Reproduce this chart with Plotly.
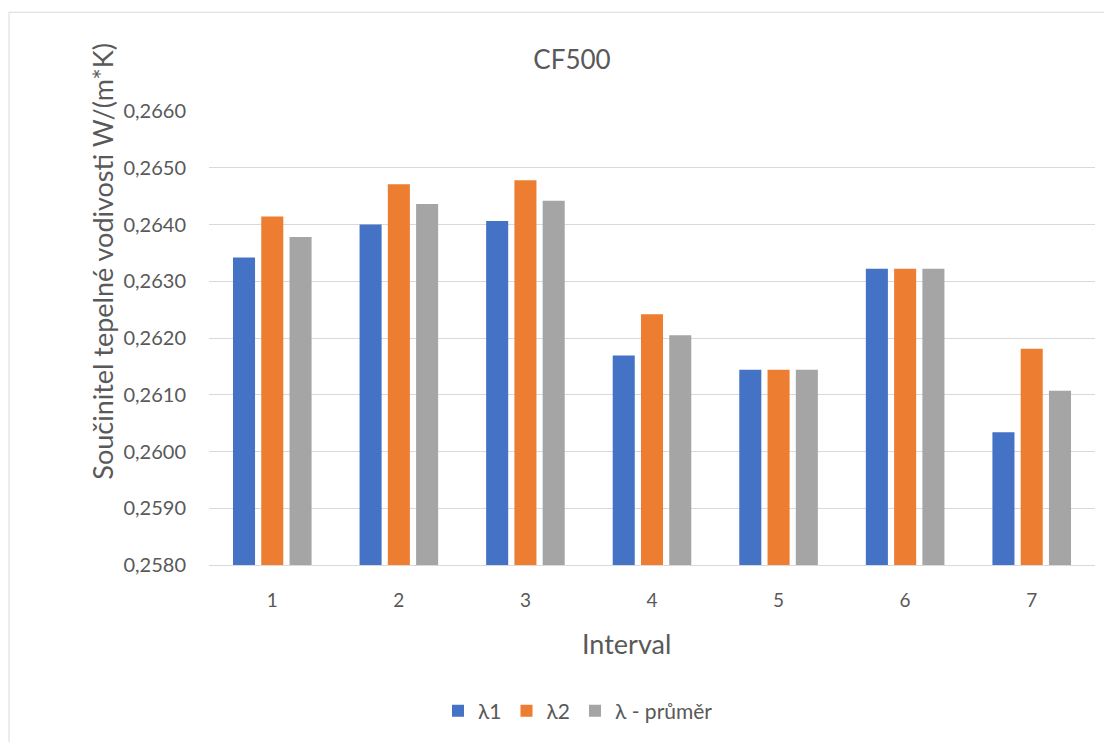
import plotly.graph_objects as go

intervals = ["1", "2", "3", "4", "5", "6", "7"]
lambda1 = [0.26342, 0.26400, 0.26406, 0.26169, 0.26144, 0.26322, 0.26034]
lambda2 = [0.26414, 0.26471, 0.26478, 0.26242, 0.26144, 0.26322, 0.26181]
lambda_avg = [0.26378, 0.26436, 0.26442, 0.26205, 0.26144, 0.26322, 0.26107]
series_names = ["λ1", "λ2", "λ - průměr"]
colors = ["#4472C4", "#ED7D31", "#A5A5A5"]

FONT = "Lato"
TXT = "#595959"

fig = go.Figure()
for name, vals, col in zip(series_names, [lambda1, lambda2, lambda_avg], colors):
    fig.add_trace(go.Bar(x=intervals, y=vals, name=name, marker_color=col,
                         marker_line_width=0))

# page is rendered with an 8px body margin
OX, OY = 8, 8
W, H = 1104, 734
PL, PR, PT, PB = 209, 1095, 111, 566  # plot area in page pixels
L, R, T, B = PL - OX, 1112 - PR, PT - OY, 742 - PB
pw, ph = W - L - R, H - T - B

def px_x(x):
    return (x - PL) / pw

def px_y(y):
    return (PB - y) / ph

fig.update_layout(
    width=W, height=H,
    margin=dict(l=L, r=R, t=T, b=B),
    plot_bgcolor="white", paper_bgcolor="white",
    separators=", ",
    font=dict(family=FONT, color=TXT),
    bargap=0.33, bargroupgap=0.22,
    barmode="group",
    title=dict(text="CF500", x=(572 - OX) / W, xanchor="center", y=1 - (60 - OY) / H,
               yanchor="middle", font=dict(size=26, color=TXT, family=FONT)),
    legend=dict(orientation="h", x=px_x(578), xanchor="center", y=px_y(711),
                yanchor="middle", font=dict(size=21, color=TXT),
                itemwidth=30, traceorder="normal"),
    xaxis=dict(showgrid=False, showline=True, linecolor="#D9D9D9", linewidth=1,
               ticks="", tickfont=dict(size=19, color=TXT),
               ticklabelstandoff=18),
    yaxis=dict(range=[0.2580, 0.2660], dtick=0.001, tickformat=".4f",
               showgrid=True, gridcolor="#D9D9D9", gridwidth=1,
               zeroline=False, showline=False, ticks="",
               tickfont=dict(size=20, color=TXT), ticklabelstandoff=22),
    annotations=[
        dict(text="Součinitel tepelné vodivosti W/(m*K)", xref="paper", yref="paper",
             x=px_x(103), y=px_y(262), xanchor="center", yanchor="middle",
             textangle=-90, showarrow=False, font=dict(size=27, color=TXT)),
        dict(text="Interval", xref="paper", yref="paper",
             x=px_x(626), y=px_y(645), xanchor="center", yanchor="middle",
             showarrow=False, font=dict(size=27, color=TXT)),
    ],
    shapes=[dict(type="rect", xref="paper", yref="paper",
                 x0=px_x(9), x1=px_x(1111), y0=px_y(12), y1=px_y(746),
                 line=dict(color="#D9D9D9", width=1), layer="below")],
)

fig.write_html("out.html")
